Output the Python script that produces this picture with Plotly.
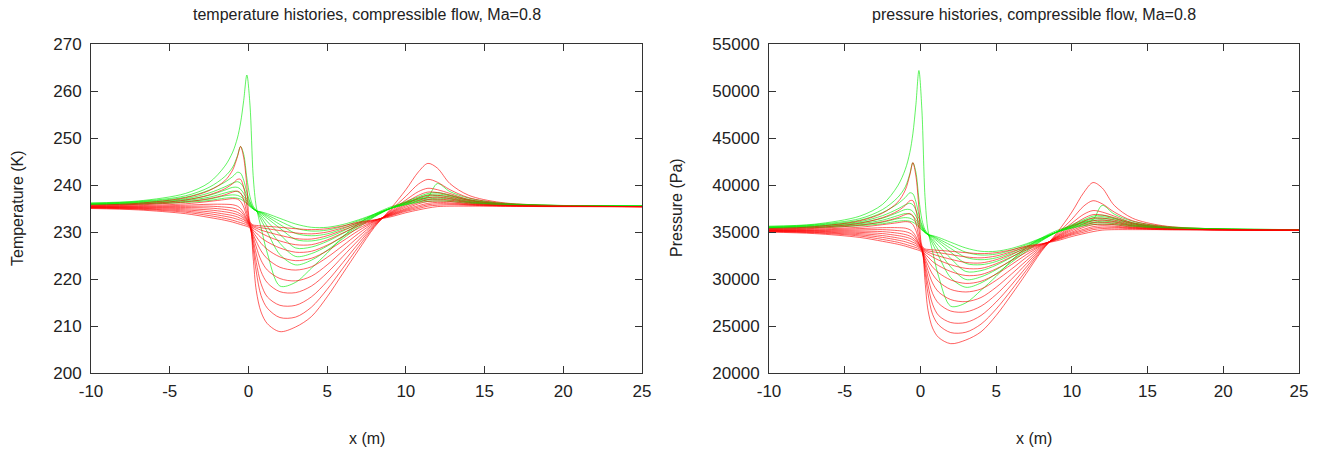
import plotly.graph_objects as go

# x positions (m) shared by every curve
X_GRID = [-10, -7, -4, -2.5, -1.5, -1, -0.7, -0.5, -0.3, -0.1, 0.1, 0.3, 0.5, 0.8, 1.2, 2, 3, 4, 5, 6, 7, 8, 9, 10,
          10.8, 11.4, 12, 12.8, 14, 16, 19, 25]

# ---------------- temperature (K), green family ----------------
T_G0 = [236.2, 236.6, 238.2, 240.5, 244.0, 247.0, 250.0, 253.2, 258.0, 263.4, 257.0, 242.0, 235.3, 231.0, 225.5, 218.5,
        219.3, 222.3, 225.5, 229.0, 231.8, 233.8, 235.3, 236.3, 237.0, 237.5, 240.3, 238.6, 237.2, 236.2, 235.7, 235.5]
T_G1 = [236.1, 236.5, 237.7, 239.5, 241.8, 243.8, 246.2, 248.2, 246.5, 241.5, 237.5, 235.5, 234.6, 232.6, 230.0, 225.2,
        223.0, 224.0, 226.1, 228.6, 231.0, 233.2, 235.0, 236.5, 237.5, 238.2, 238.4, 237.9, 236.9, 236.1, 235.7, 235.5]
T_G2 = [236.0, 236.4, 237.4, 238.9, 240.6, 241.8, 242.7, 242.5, 241.0, 238.5, 236.5, 235.2, 234.5, 233.2, 231.2, 227.6,
        224.8, 225.4, 227.0, 229.1, 231.3, 233.3, 235.0, 236.3, 237.3, 237.9, 238.1, 237.7, 236.8, 236.0, 235.7, 235.5]
T_G3 = [235.95, 236.3, 237.1, 238.3, 239.6, 240.4, 240.7, 240.4, 239.4, 237.7, 236.2, 235.1, 234.5, 233.6, 232.2, 229.5,
        226.6, 226.8, 228.0, 229.7, 231.6, 233.4, 235.0, 236.2, 237.1, 237.6, 237.8, 237.5, 236.7, 236.0, 235.6, 235.5]
T_G4 = [235.9, 236.2, 236.9, 237.8, 238.9, 239.5, 239.5, 239.1, 238.2, 237.0, 235.9, 235.0, 234.5, 233.9, 232.9, 230.8,
        228.4, 228.1, 228.8, 230.2, 231.9, 233.5, 235.0, 236.1, 236.9, 237.3, 237.5, 237.2, 236.5, 235.9, 235.6, 235.5]
T_G5 = [235.85, 236.1, 236.7, 237.4, 238.3, 238.7, 238.6, 238.2, 237.5, 236.6, 235.7, 235.0, 234.5, 234.1, 233.3, 231.6,
        229.7, 229.2, 229.6, 230.7, 232.1, 233.6, 235.0, 236.0, 236.7, 237.0, 237.2, 237.0, 236.4, 235.9, 235.6, 235.5]
T_G6 = [235.8, 236.0, 236.5, 237.0, 237.7, 237.9, 237.8, 237.5, 237.0, 236.2, 235.5, 234.9, 234.5, 234.2, 233.6, 232.3,
        230.8, 230.2, 230.4, 231.2, 232.4, 233.7, 235.0, 235.9, 236.5, 236.8, 236.9, 236.7, 236.3, 235.8, 235.6, 235.5]
T_G7 = [235.75, 235.9, 236.3, 236.7, 237.2, 237.3, 237.2, 237.0, 236.6, 236.0, 235.4, 234.9, 234.5, 234.3, 233.9, 232.9,
        231.7, 231.0, 231.0, 231.6, 232.6, 233.8, 235.0, 235.8, 236.3, 236.5, 236.6, 236.5, 236.1, 235.8, 235.6, 235.5]

# ---------------- temperature (K), red family ----------------
T_R0 = [235.0, 234.7, 233.9, 233.1, 232.5, 232.1, 231.8, 231.6, 231.4, 231.2, 230.8, 224.5, 217.5, 213.0, 210.5, 208.8,
        209.8, 212.0, 216.2, 221.2, 226.2, 231.0, 234.8, 239.0, 242.8, 244.6, 243.6, 240.3, 237.8, 236.3, 235.7, 235.4]
T_R1 = [235.1, 234.85, 234.2, 233.5, 232.9, 232.5, 232.2, 232.0, 231.8, 231.5, 231.0, 226.5, 221.5, 216.5, 213.8, 211.8,
        211.9, 214.0, 217.8, 222.3, 226.9, 231.2, 234.5, 237.6, 240.2, 241.2, 240.6, 239.0, 237.3, 236.1, 235.6, 235.4]
T_R2 = [235.15, 234.95, 234.45, 233.9, 233.35, 233.0, 232.7, 232.5, 232.2, 231.8, 231.1, 227.5, 223.5, 219.0, 216.2, 214.4,
        214.4, 216.2, 219.5, 223.5, 227.6, 231.4, 234.3, 236.8, 238.6, 239.3, 239.0, 238.2, 236.9, 236.0, 235.6, 235.4]
T_R3 = [235.2, 235.05, 234.7, 234.3, 233.8, 233.5, 233.2, 232.9, 232.6, 232.0, 231.2, 228.3, 225.3, 221.6, 219.2, 217.3,
        217.1, 218.5, 221.3, 224.8, 228.3, 231.6, 234.1, 236.3, 237.8, 238.5, 238.4, 237.8, 236.7, 235.9, 235.6, 235.4]
T_R4 = [235.25, 235.15, 234.95, 234.7, 234.3, 234.0, 233.7, 233.4, 232.9, 232.2, 231.3, 229.0, 226.8, 224.0, 221.9, 220.1,
        219.6, 220.6, 223.0, 226.0, 229.0, 231.8, 234.0, 235.9, 237.2, 237.8, 237.8, 237.4, 236.5, 235.9, 235.5, 235.4]
T_R5 = [235.3, 235.25, 235.2, 235.1, 234.8, 234.5, 234.2, 233.8, 233.2, 232.4, 231.4, 229.5, 228.0, 226.0, 224.3, 222.5,
        221.9, 222.6, 224.6, 227.1, 229.7, 232.0, 233.9, 235.6, 236.7, 237.3, 237.4, 237.1, 236.3, 235.8, 235.5, 235.4]
T_R6 = [235.35, 235.35, 235.45, 235.5, 235.3, 235.1, 234.8, 234.4, 233.6, 232.6, 231.5, 230.0, 229.0, 227.6, 226.3, 224.7,
        223.9, 224.4, 226.0, 228.1, 230.3, 232.2, 233.8, 235.3, 236.3, 236.9, 237.0, 236.8, 236.2, 235.7, 235.5, 235.4]
T_R7 = [235.4, 235.45, 235.7, 235.9, 235.9, 235.8, 235.5, 235.0, 234.1, 232.8, 231.6, 230.4, 229.8, 228.8, 227.9, 226.6,
        225.7, 225.9, 227.2, 229.0, 230.8, 232.3, 233.7, 235.0, 236.0, 236.5, 236.6, 236.5, 236.0, 235.7, 235.5, 235.4]
T_R8 = [235.45, 235.6, 236.0, 236.5, 236.9, 237.1, 237.0, 236.5, 235.3, 233.3, 231.7, 230.8, 230.4, 229.8, 229.1, 228.1,
        227.3, 227.3, 228.3, 229.8, 231.3, 232.4, 233.6, 234.8, 235.6, 236.1, 236.3, 236.2, 235.9, 235.6, 235.5, 235.4]
T_R9 = [235.5, 235.75, 236.4, 237.1, 237.9, 238.5, 238.7, 238.3, 236.8, 234.0, 231.8, 231.1, 230.8, 230.4, 230.0, 229.3,
        228.6, 228.5, 229.2, 230.4, 231.6, 232.5, 233.5, 234.6, 235.3, 235.8, 236.0, 236.0, 235.8, 235.6, 235.5, 235.4]
T_R10 = [235.6, 235.9, 236.8, 237.9, 239.2, 240.3, 241.2, 241.2, 239.5, 235.5, 231.9, 231.3, 231.1, 230.9, 230.7, 230.3,
         229.8, 229.6, 230.0, 230.9, 231.9, 232.5, 233.4, 234.4, 235.0, 235.5, 235.7, 235.8, 235.7, 235.5, 235.5, 235.4]
T_R11 = [235.7, 236.1, 237.3, 238.8, 240.9, 243.2, 246.0, 248.2, 245.8, 239.8, 232.2, 231.5, 231.4, 231.3, 231.2, 231.0,
         230.7, 230.5, 230.7, 231.3, 232.1, 232.6, 233.2, 234.1, 234.7, 235.1, 235.4, 235.5, 235.5, 235.5, 235.4, 235.4]

# ---------------- pressure (Pa), green family ----------------
P_G0 = [35620, 35830, 36690, 37940, 39910, 41660, 43460, 45440, 48530, 52180, 47880, 38780, 35150, 32950, 30280, 27110,
        27460, 28800, 30280, 31950, 33350, 34370, 35150, 35670, 36040, 36310, 37830, 36900, 36150, 35620, 35360, 35250]
P_G1 = [35570, 35780, 36420, 37390, 38670, 39800, 41190, 42380, 41370, 38500, 36310, 35250, 34780, 33750, 32450, 30140,
        29120, 29580, 30560, 31760, 32950, 34060, 34990, 35780, 36310, 36690, 36800, 36530, 35990, 35570, 35360, 35250]
P_G2 = [35510, 35720, 36260, 37070, 38000, 38670, 39170, 39060, 38220, 36850, 35780, 35090, 34730, 34060, 33050, 31280,
        29950, 30230, 30990, 32010, 33100, 34110, 34990, 35670, 36200, 36530, 36630, 36420, 35940, 35510, 35360, 35250]
P_G3 = [35490, 35670, 36100, 36740, 37450, 37890, 38060, 37890, 37340, 36420, 35620, 35040, 34730, 34260, 33550, 32200,
        30800, 30890, 31470, 32300, 33250, 34160, 34990, 35620, 36100, 36360, 36470, 36310, 35880, 35510, 35300, 35250]
P_G4 = [35460, 35620, 35990, 36470, 37070, 37390, 37390, 37180, 36690, 36040, 35460, 34990, 34730, 34420, 33910, 32850,
        31660, 31520, 31860, 32550, 33400, 34210, 34990, 35570, 35990, 36200, 36310, 36150, 35780, 35460, 35300, 35250]
P_G5 = [35430, 35570, 35880, 36260, 36740, 36960, 36900, 36690, 36310, 35830, 35360, 34990, 34730, 34520, 34110, 33250,
        32300, 32050, 32250, 32800, 33500, 34260, 34990, 35510, 35880, 36040, 36150, 36040, 35720, 35460, 35300, 35250]
P_G6 = [35410, 35510, 35780, 36040, 36420, 36530, 36470, 36310, 36040, 35620, 35250, 34940, 34730, 34570, 34260, 33600,
        32850, 32550, 32650, 33050, 33650, 34320, 34990, 35460, 35780, 35940, 35990, 35880, 35670, 35410, 35300, 35250]
P_G7 = [35380, 35460, 35670, 35880, 36150, 36200, 36150, 36040, 35830, 35510, 35200, 34940, 34730, 34620, 34420, 33910,
        33300, 32950, 32950, 33250, 33750, 34370, 34990, 35410, 35670, 35780, 35830, 35780, 35570, 35410, 35300, 35250]

# ---------------- pressure (Pa), red family ----------------
P_R0 = [34990, 34830, 34420, 34010, 33700, 33500, 33350, 33250, 33150, 33050, 32850, 29810, 26680, 24790, 23780, 23120,
        23510, 24380, 26120, 28300, 30610, 32950, 34880, 37120, 39230, 40260, 39690, 37830, 36470, 35670, 35360, 35200]
P_R1 = [35040, 34910, 34570, 34210, 33910, 33700, 33550, 33450, 33350, 33200, 32950, 30750, 28440, 26250, 25120, 24300,
        24340, 25200, 26800, 28800, 30940, 33050, 34730, 36360, 37780, 38330, 38000, 37120, 36200, 35570, 35300, 35200]
P_R2 = [35070, 34960, 34700, 34420, 34140, 33960, 33800, 33700, 33550, 33350, 33000, 31230, 29350, 27330, 26120, 25370,
        25370, 26120, 27550, 29350, 31280, 33150, 34620, 35940, 36900, 37280, 37120, 36690, 35990, 35510, 35300, 35200]
P_R3 = [35090, 35010, 34830, 34620, 34370, 34210, 34060, 33910, 33750, 33450, 33050, 31620, 30180, 28480, 27410, 26590,
        26500, 27110, 28350, 29950, 31620, 33250, 34520, 35670, 36470, 36850, 36800, 36470, 35880, 35460, 35300, 35200]
P_R4 = [35120, 35070, 34960, 34830, 34620, 34470, 34320, 34160, 33910, 33550, 33100, 31950, 30890, 29580, 28620, 27810,
        27590, 28030, 29120, 30510, 31950, 33350, 34470, 35460, 36150, 36470, 36470, 36260, 35780, 35460, 35250, 35200]
P_R5 = [35150, 35120, 35090, 35040, 34880, 34730, 34570, 34370, 34060, 33650, 33150, 32200, 31470, 30510, 29720, 28890,
        28620, 28930, 29860, 31040, 32300, 33450, 34420, 35300, 35880, 36200, 36260, 36100, 35670, 35410, 35250, 35200]
P_R6 = [35170, 35170, 35220, 35250, 35150, 35040, 34880, 34680, 34260, 33750, 33200, 32450, 31950, 31280, 30660, 29900,
        29530, 29760, 30510, 31520, 32600, 33550, 34370, 35150, 35670, 35990, 36040, 35940, 35620, 35360, 35250, 35200]
P_R7 = [35200, 35220, 35360, 35460, 35460, 35410, 35250, 34990, 34520, 33800, 33250, 32650, 32350, 31860, 31420, 30800,
        30370, 30470, 31080, 31950, 32850, 33600, 34320, 34990, 35510, 35780, 35830, 35780, 35510, 35360, 35250, 35200]
P_R8 = [35220, 35300, 35510, 35780, 35990, 36100, 36040, 35780, 35150, 34110, 33300, 32850, 32650, 32350, 32010, 31520,
        31130, 31130, 31620, 32350, 33100, 33650, 34260, 34880, 35300, 35570, 35670, 35620, 35460, 35300, 35250, 35200]
P_R9 = [35250, 35380, 35720, 36100, 36530, 36850, 36960, 36740, 35940, 34470, 33350, 33000, 32850, 32650, 32450, 32100,
        31760, 31710, 32050, 32650, 33250, 33700, 34210, 34780, 35150, 35410, 35510, 35510, 35410, 35300, 35250, 35200]
P_R10 = [35300, 35460, 35940, 36530, 37230, 37830, 38330, 38330, 37390, 35250, 33400, 33100, 33000, 32900, 32800, 32600,
         32350, 32250, 32450, 32900, 33400, 33700, 34160, 34680, 34990, 35250, 35360, 35410, 35360, 35250, 35250, 35200]
P_R11 = [35360, 35570, 36200, 37010, 38170, 39460, 41070, 42380, 40960, 37560, 33550, 33200, 33150, 33100, 33050, 32950,
         32800, 32700, 32800, 33100, 33500, 33750, 34060, 34520, 34830, 35040, 35200, 35250, 35250, 35250, 35200, 35200]

TEMP_GREEN = [T_G0, T_G1, T_G2, T_G3, T_G4, T_G5, T_G6, T_G7]
TEMP_RED = [T_R0, T_R1, T_R2, T_R3, T_R4, T_R5, T_R6, T_R7, T_R8, T_R9, T_R10, T_R11]
PRES_GREEN = [P_G0, P_G1, P_G2, P_G3, P_G4, P_G5, P_G6, P_G7]
PRES_RED = [P_R0, P_R1, P_R2, P_R3, P_R4, P_R5, P_R6, P_R7, P_R8, P_R9, P_R10, P_R11]

X_TICKS = [-10, -5, 0, 5, 10, 15, 20, 25]
X_TICK_TEXT = ["-10", "-5", "0", "5", "10", "15", "20", "25"]
T_TICKS = [200, 210, 220, 230, 240, 250, 260, 270]
P_TICKS = [20000, 25000, 30000, 35000, 40000, 45000, 50000, 55000]

TITLE_T = "temperature histories, compressible flow, Ma=0.8"
TITLE_P = "pressure histories, compressible flow, Ma=0.8"

RED = "rgba(255,0,0,0.62)"
GREEN = "rgba(0,235,0,0.62)"

W, H = 1318, 450
LEFT = (91, 642)
RIGHT = (769, 1299)
TOP, BOTTOM = 44, 373

fig = go.Figure()


def add_family(greens, reds, xa, ya):
    n = max(len(greens), len(reds))
    for i in range(n):
        for fam, col in ((greens, GREEN), (reds, RED)):
            if i < len(fam):
                fig.add_trace(go.Scatter(
                    x=X_GRID, y=fam[i], mode="lines", xaxis=xa, yaxis=ya,
                    line=dict(color=col, width=1, shape="spline", smoothing=0.9),
                    hoverinfo="skip", showlegend=False))


add_family(TEMP_GREEN, TEMP_RED, "x", "y")
add_family(PRES_GREEN, PRES_RED, "x2", "y2")

FONT = "Liberation Sans, Arial, sans-serif"
axis_common = dict(showgrid=False, zeroline=False, showline=True, mirror="ticks", linecolor="#333",
                   linewidth=1, ticks="inside", ticklen=7, tickcolor="#333", tickwidth=1, automargin=False,
                   tickfont=dict(family=FONT, size=17, color="#222"))

fig.update_layout(
    width=W, height=H, margin=dict(l=0, r=0, t=0, b=0),
    paper_bgcolor="white", plot_bgcolor="white", showlegend=False,
    xaxis=dict(domain=[LEFT[0] / W, LEFT[1] / W], range=[-10, 25], tickvals=X_TICKS, ticktext=X_TICK_TEXT,
               anchor="y", ticklabelstandoff=3, **axis_common),
    yaxis=dict(domain=[1 - BOTTOM / H, 1 - TOP / H], range=[200, 270], tickvals=T_TICKS, anchor="x",
               ticklabelstandoff=5, **axis_common),
    xaxis2=dict(domain=[RIGHT[0] / W, RIGHT[1] / W], range=[-10, 25], tickvals=X_TICKS, ticktext=X_TICK_TEXT,
                anchor="y2", ticklabelstandoff=3, **axis_common),
    yaxis2=dict(domain=[1 - BOTTOM / H, 1 - TOP / H], range=[20000, 55000], tickvals=P_TICKS, anchor="x2",
                tickformat="d", ticklabelstandoff=5, **axis_common),
)

ann_font = dict(family=FONT, size=16, color="#222")
for cx, title in (((LEFT[0] + LEFT[1]) / 2, TITLE_T), ((RIGHT[0] + RIGHT[1]) / 2, TITLE_P)):
    fig.add_annotation(x=cx / W, y=1 - 15 / H, xref="paper", yref="paper", text=title, showarrow=False,
                       font=ann_font, xanchor="center", yanchor="middle")
    fig.add_annotation(x=cx / W, y=1 - 438 / H, xref="paper", yref="paper", text="x (m)", showarrow=False,
                       font=ann_font, xanchor="center", yanchor="middle")
fig.add_annotation(x=17 / W, y=1 - 208 / H, xref="paper", yref="paper", text="Temperature (K)",
                   textangle=-90, showarrow=False, font=ann_font, xanchor="center", yanchor="middle")
fig.add_annotation(x=676 / W, y=1 - 208 / H, xref="paper", yref="paper", text="Pressure (Pa)",
                   textangle=-90, showarrow=False, font=ann_font, xanchor="center", yanchor="middle")

# remove the default 8 px page margin so the figure sits at the top-left corner of the window
fig.write_html("out.html", config={"displayModeBar": False},
               post_script="document.body.style.margin='0';document.body.style.overflow='hidden';")
